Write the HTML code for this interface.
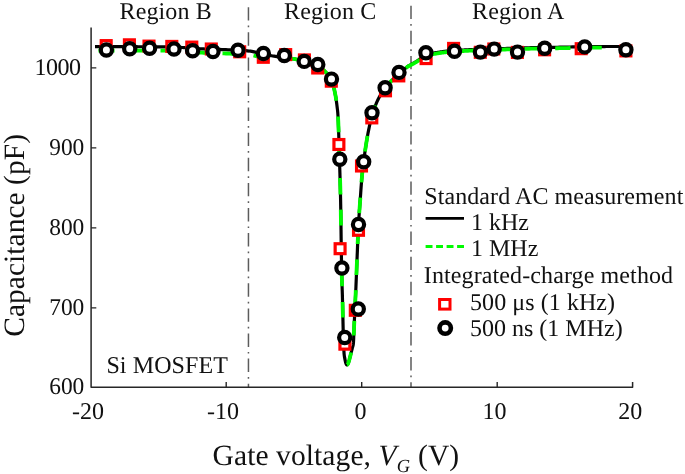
<!DOCTYPE html>
<html lang="en"><head><meta charset="utf-8"><title>C-V curve</title>
<style>html,body{margin:0;padding:0;background:#fff}svg{display:block}text{text-rendering:geometricPrecision}</style></head>
<body>
<svg width="685" height="474" viewBox="0 0 685 474">
<rect width="685" height="474" fill="#fff"/>
<g stroke="#5c5c5c" stroke-width="1.5" fill="none" stroke-dasharray="13.4 5 1.7 5">
<path d="M248.45,7.2 V387"/>
<path d="M411.0,5.7 V387"/>
</g>
<g stroke="#262626" stroke-width="1.5" fill="none">
<path d="M91.1,27.6 V387.2 H632.6 V382" stroke-linejoin="round"/>
<path d="M226.2,387.2 v-5.2 M361.7,387.2 v-5.2 M497.2,387.2 v-5.2 M91.1,67.85 h5.2 M91.1,147.85 h5.2 M91.1,227.85 h5.2 M91.1,307.85 h5.2 " stroke-width="1.4"/>
</g>
<path d="M95.00,46.70 L95.71,46.70 L96.57,46.70 L97.58,46.70 L98.70,46.70 L99.93,46.70 L101.25,46.70 L102.64,46.70 L104.07,46.70 L105.55,46.70 L107.04,46.70 L108.53,46.70 L110.00,46.70 L111.49,46.70 L113.04,46.70 L114.65,46.70 L116.30,46.70 L117.98,46.69 L119.69,46.69 L121.41,46.69 L123.15,46.69 L124.88,46.69 L126.61,46.69 L128.32,46.70 L130.00,46.70 L131.67,46.70 L133.33,46.71 L135.00,46.72 L136.67,46.72 L138.33,46.73 L140.00,46.74 L141.67,46.75 L143.33,46.76 L145.00,46.77 L146.67,46.78 L148.33,46.79 L150.00,46.80 L151.67,46.81 L153.33,46.82 L155.00,46.83 L156.67,46.83 L158.33,46.84 L160.00,46.85 L161.67,46.86 L163.33,46.88 L165.00,46.90 L166.67,46.92 L168.33,46.96 L170.00,47.00 L171.69,47.05 L173.43,47.11 L175.19,47.17 L176.96,47.24 L178.74,47.32 L180.50,47.40 L182.23,47.48 L183.93,47.57 L185.56,47.65 L187.13,47.74 L188.61,47.82 L190.00,47.90 L191.24,47.98 L192.32,48.06 L193.28,48.15 L194.15,48.23 L194.96,48.32 L195.75,48.41 L196.55,48.49 L197.41,48.58 L198.34,48.66 L199.40,48.74 L200.61,48.82 L202.00,48.90 L203.58,48.97 L205.32,49.04 L207.18,49.10 L209.15,49.16 L211.20,49.22 L213.31,49.28 L215.46,49.34 L217.63,49.40 L219.79,49.47 L221.92,49.54 L224.00,49.62 L226.00,49.70 L227.98,49.79 L230.01,49.87 L232.05,49.95 L234.11,50.04 L236.16,50.13 L238.19,50.23 L240.18,50.33 L242.11,50.44 L243.98,50.56 L245.76,50.69 L247.44,50.84 L249.00,51.00 L250.44,51.18 L251.76,51.38 L252.98,51.60 L254.11,51.84 L255.18,52.08 L256.19,52.33 L257.16,52.59 L258.11,52.84 L259.05,53.09 L260.01,53.34 L260.98,53.58 L262.00,53.80 L263.01,54.01 L263.97,54.22 L264.88,54.42 L265.78,54.62 L266.67,54.81 L267.56,55.01 L268.48,55.20 L269.44,55.39 L270.46,55.59 L271.55,55.79 L272.72,55.99 L274.00,56.20 L275.42,56.41 L276.99,56.63 L278.67,56.86 L280.44,57.08 L282.27,57.31 L284.12,57.54 L285.97,57.77 L287.78,58.00 L289.52,58.23 L291.15,58.45 L292.66,58.68 L294.00,58.90 L295.17,59.11 L296.20,59.31 L297.11,59.50 L297.93,59.69 L298.67,59.87 L299.38,60.06 L300.06,60.25 L300.74,60.46 L301.45,60.68 L302.22,60.93 L303.06,61.20 L304.00,61.50 L305.05,61.83 L306.18,62.19 L307.38,62.58 L308.63,62.99 L309.90,63.41 L311.19,63.85 L312.46,64.30 L313.70,64.74 L314.90,65.19 L316.03,65.64 L317.07,66.08 L318.00,66.50 L318.83,66.91 L319.58,67.29 L320.25,67.67 L320.87,68.04 L321.44,68.41 L321.97,68.78 L322.47,69.17 L322.96,69.57 L323.45,70.00 L323.94,70.46 L324.46,70.96 L325.00,71.50 L325.57,72.07 L326.15,72.66 L326.73,73.27 L327.31,73.91 L327.90,74.57 L328.47,75.25 L329.03,75.96 L329.57,76.70 L330.10,77.48 L330.60,78.28 L331.06,79.12 L331.50,80.00 L331.90,80.93 L332.27,81.91 L332.62,82.93 L332.94,84.00 L333.25,85.10 L333.53,86.22 L333.80,87.36 L334.06,88.50 L334.30,89.64 L334.54,90.78 L334.77,91.90 L335.00,93.00 L335.22,94.08 L335.43,95.16 L335.62,96.23 L335.81,97.30 L335.98,98.37 L336.14,99.44 L336.30,100.51 L336.45,101.59 L336.59,102.68 L336.73,103.78 L336.87,104.88 L337.00,106.00 L337.13,107.05 L337.25,107.97 L337.35,108.82 L337.46,109.63 L337.55,110.45 L337.64,111.31 L337.73,112.27 L337.82,113.37 L337.91,114.65 L338.00,116.15 L338.10,117.92 L338.20,120.00 L338.31,122.42 L338.41,125.16 L338.52,128.17 L338.63,131.41 L338.74,134.82 L338.86,138.38 L338.97,142.02 L339.08,145.70 L339.19,149.39 L339.29,153.03 L339.40,156.58 L339.50,160.00 L339.60,163.30 L339.70,166.55 L339.80,169.77 L339.90,172.96 L339.99,176.16 L340.09,179.38 L340.18,182.62 L340.27,185.93 L340.36,189.30 L340.44,192.75 L340.52,196.32 L340.60,200.00 L340.67,203.88 L340.74,207.99 L340.81,212.27 L340.87,216.67 L340.93,221.14 L340.98,225.62 L341.04,230.08 L341.09,234.44 L341.14,238.67 L341.19,242.71 L341.25,246.50 L341.30,250.00 L341.35,253.23 L341.41,256.27 L341.46,259.14 L341.51,261.85 L341.56,264.42 L341.61,266.88 L341.66,269.22 L341.70,271.48 L341.75,273.67 L341.80,275.81 L341.85,277.91 L341.90,280.00 L341.95,281.97 L342.00,283.74 L342.05,285.35 L342.09,286.85 L342.14,288.28 L342.19,289.69 L342.24,291.11 L342.29,292.59 L342.34,294.18 L342.39,295.91 L342.44,297.84 L342.50,300.00 L342.56,302.46 L342.63,305.22 L342.69,308.21 L342.76,311.37 L342.83,314.63 L342.91,317.94 L342.98,321.22 L343.05,324.41 L343.12,327.45 L343.18,330.27 L343.24,332.81 L343.30,335.00 L343.35,336.87 L343.40,338.51 L343.45,339.94 L343.49,341.19 L343.53,342.29 L343.57,343.26 L343.61,344.14 L343.65,344.94 L343.69,345.70 L343.73,346.45 L343.76,347.20 L343.80,348.00 L343.83,348.79 L343.87,349.50 L343.89,350.16 L343.92,350.76 L343.94,351.32 L343.97,351.85 L344.00,352.35 L344.03,352.84 L344.06,353.32 L344.10,353.80 L344.15,354.29 L344.20,354.80 L344.26,355.33 L344.33,355.86 L344.41,356.39 L344.50,356.91 L344.58,357.43 L344.67,357.94 L344.77,358.43 L344.86,358.91 L344.95,359.37 L345.04,359.81 L345.12,360.22 L345.20,360.60 L345.27,360.95 L345.34,361.28 L345.41,361.59 L345.47,361.87 L345.54,362.13 L345.60,362.38 L345.66,362.61 L345.73,362.83 L345.79,363.04 L345.86,363.23 L345.93,363.42 L346.00,363.60 L346.08,363.78 L346.15,363.95 L346.23,364.11 L346.31,364.27 L346.39,364.41 L346.48,364.54 L346.56,364.65 L346.64,364.74 L346.73,364.82 L346.82,364.87 L346.91,364.90 L347.00,364.90 L347.09,364.87 L347.19,364.82 L347.29,364.74 L347.39,364.64 L347.50,364.51 L347.60,364.38 L347.70,364.22 L347.81,364.05 L347.91,363.87 L348.01,363.69 L348.11,363.50 L348.20,363.30 L348.29,363.10 L348.37,362.90 L348.45,362.68 L348.53,362.46 L348.61,362.23 L348.69,361.99 L348.77,361.73 L348.84,361.46 L348.93,361.17 L349.01,360.87 L349.10,360.54 L349.20,360.20 L349.30,359.83 L349.41,359.44 L349.52,359.03 L349.63,358.60 L349.74,358.16 L349.86,357.70 L349.98,357.23 L350.10,356.75 L350.23,356.27 L350.35,355.78 L350.48,355.29 L350.60,354.80 L350.73,354.30 L350.86,353.79 L351.00,353.26 L351.13,352.73 L351.27,352.19 L351.41,351.64 L351.55,351.10 L351.69,350.56 L351.82,350.03 L351.95,349.50 L352.08,348.99 L352.20,348.50 L352.32,348.04 L352.43,347.63 L352.54,347.25 L352.66,346.89 L352.76,346.54 L352.87,346.18 L352.97,345.80 L353.07,345.40 L353.16,344.94 L353.25,344.44 L353.33,343.86 L353.40,343.20 L353.47,342.45 L353.52,341.63 L353.57,340.74 L353.62,339.80 L353.66,338.81 L353.69,337.79 L353.73,336.75 L353.76,335.70 L353.79,334.65 L353.82,333.61 L353.86,332.59 L353.90,331.60 L353.94,330.69 L353.97,329.88 L354.00,329.13 L354.03,328.41 L354.06,327.70 L354.09,326.95 L354.13,326.14 L354.17,325.23 L354.21,324.19 L354.26,323.00 L354.33,321.61 L354.40,320.00 L354.49,318.16 L354.58,316.12 L354.69,313.91 L354.80,311.55 L354.92,309.06 L355.04,306.46 L355.17,303.79 L355.30,301.05 L355.43,298.28 L355.56,295.50 L355.68,292.73 L355.80,290.00 L355.92,287.24 L356.03,284.40 L356.15,281.48 L356.27,278.52 L356.39,275.52 L356.51,272.50 L356.62,269.48 L356.74,266.48 L356.86,263.52 L356.97,260.60 L357.09,257.76 L357.20,255.00 L357.31,252.31 L357.42,249.65 L357.52,247.03 L357.63,244.44 L357.73,241.89 L357.83,239.38 L357.94,236.89 L358.04,234.44 L358.15,232.03 L358.26,229.65 L358.38,227.31 L358.50,225.00 L358.63,222.76 L358.75,220.60 L358.88,218.52 L359.01,216.48 L359.14,214.48 L359.28,212.50 L359.42,210.52 L359.57,208.52 L359.72,206.48 L359.87,204.40 L360.03,202.24 L360.20,200.00 L360.37,197.68 L360.54,195.29 L360.71,192.85 L360.88,190.37 L361.06,187.85 L361.24,185.31 L361.44,182.75 L361.64,180.19 L361.86,177.62 L362.09,175.06 L362.33,172.52 L362.60,170.00 L362.89,167.47 L363.20,164.88 L363.53,162.27 L363.87,159.63 L364.23,156.99 L364.60,154.38 L364.97,151.79 L365.35,149.26 L365.72,146.80 L366.09,144.42 L366.45,142.15 L366.80,140.00 L367.15,137.95 L367.50,135.95 L367.86,134.02 L368.21,132.15 L368.57,130.35 L368.93,128.62 L369.27,126.98 L369.61,125.41 L369.93,123.92 L370.24,122.52 L370.53,121.21 L370.80,120.00 L371.04,118.93 L371.23,118.03 L371.40,117.27 L371.55,116.63 L371.69,116.07 L371.82,115.56 L371.95,115.08 L372.10,114.59 L372.27,114.07 L372.47,113.48 L372.71,112.80 L373.00,112.00 L373.33,111.08 L373.69,110.10 L374.07,109.05 L374.49,107.95 L374.92,106.82 L375.37,105.67 L375.84,104.51 L376.31,103.35 L376.80,102.21 L377.30,101.09 L377.80,100.02 L378.30,99.00 L378.81,98.02 L379.33,97.05 L379.87,96.10 L380.42,95.16 L380.98,94.24 L381.54,93.34 L382.12,92.45 L382.69,91.58 L383.27,90.73 L383.85,89.90 L384.43,89.09 L385.00,88.30 L385.57,87.53 L386.15,86.80 L386.73,86.08 L387.31,85.39 L387.90,84.71 L388.48,84.05 L389.07,83.40 L389.66,82.77 L390.24,82.15 L390.83,81.53 L391.42,80.91 L392.00,80.30 L392.58,79.70 L393.15,79.11 L393.72,78.54 L394.29,77.98 L394.85,77.42 L395.42,76.88 L395.99,76.34 L396.57,75.80 L397.16,75.26 L397.76,74.71 L398.37,74.16 L399.00,73.60 L399.66,73.02 L400.36,72.41 L401.09,71.79 L401.84,71.15 L402.60,70.52 L403.36,69.89 L404.10,69.28 L404.83,68.69 L405.52,68.14 L406.17,67.62 L406.77,67.16 L407.30,66.75 L407.77,66.41 L408.18,66.12 L408.55,65.88 L408.88,65.68 L409.17,65.52 L409.44,65.38 L409.70,65.25 L409.94,65.14 L410.19,65.02 L410.44,64.90 L410.71,64.76 L411.00,64.60 L411.30,64.42 L411.61,64.25 L411.91,64.08 L412.21,63.90 L412.51,63.73 L412.81,63.56 L413.11,63.39 L413.40,63.21 L413.70,63.04 L414.00,62.86 L414.30,62.68 L414.60,62.50 L414.90,62.32 L415.20,62.13 L415.50,61.95 L415.79,61.76 L416.09,61.58 L416.39,61.39 L416.69,61.20 L416.99,61.00 L417.29,60.81 L417.59,60.61 L417.89,60.41 L418.20,60.20 L418.51,59.99 L418.82,59.77 L419.13,59.55 L419.44,59.32 L419.76,59.09 L420.07,58.86 L420.39,58.63 L420.71,58.40 L421.03,58.17 L421.35,57.94 L421.68,57.72 L422.00,57.50 L422.33,57.28 L422.66,57.06 L422.99,56.84 L423.32,56.61 L423.65,56.39 L423.99,56.17 L424.32,55.95 L424.66,55.74 L425.00,55.54 L425.33,55.35 L425.67,55.17 L426.00,55.00 L426.33,54.84 L426.66,54.69 L426.99,54.56 L427.32,54.43 L427.65,54.30 L427.98,54.19 L428.31,54.08 L428.64,53.97 L428.98,53.88 L429.32,53.78 L429.66,53.69 L430.00,53.60 L430.34,53.52 L430.68,53.45 L431.02,53.38 L431.36,53.32 L431.69,53.27 L432.04,53.22 L432.39,53.17 L432.74,53.12 L433.11,53.07 L433.49,53.02 L433.89,52.96 L434.30,52.90 L434.73,52.83 L435.18,52.76 L435.64,52.69 L436.12,52.61 L436.61,52.53 L437.10,52.46 L437.60,52.38 L438.10,52.30 L438.61,52.22 L439.11,52.15 L439.61,52.07 L440.10,52.00 L440.58,51.93 L441.05,51.86 L441.52,51.79 L441.98,51.72 L442.44,51.65 L442.91,51.58 L443.39,51.51 L443.87,51.45 L444.38,51.38 L444.89,51.32 L445.43,51.26 L446.00,51.20 L446.58,51.14 L447.15,51.09 L447.74,51.04 L448.33,50.99 L448.93,50.95 L449.56,50.90 L450.21,50.85 L450.89,50.81 L451.60,50.76 L452.35,50.71 L453.15,50.66 L454.00,50.60 L454.91,50.54 L455.88,50.48 L456.90,50.41 L457.96,50.34 L459.06,50.27 L460.19,50.20 L461.33,50.13 L462.48,50.06 L463.63,49.99 L464.78,49.92 L465.90,49.86 L467.00,49.80 L468.05,49.74 L469.03,49.69 L469.97,49.64 L470.89,49.59 L471.81,49.54 L472.75,49.49 L473.73,49.45 L474.78,49.40 L475.91,49.35 L477.14,49.30 L478.50,49.25 L480.00,49.20 L481.66,49.15 L483.46,49.09 L485.38,49.03 L487.41,48.98 L489.52,48.92 L491.69,48.86 L493.90,48.80 L496.15,48.74 L498.40,48.68 L500.64,48.62 L502.84,48.56 L505.00,48.50 L507.14,48.44 L509.30,48.37 L511.48,48.30 L513.67,48.23 L515.86,48.15 L518.06,48.08 L520.26,48.01 L522.44,47.94 L524.62,47.87 L526.77,47.81 L528.90,47.75 L531.00,47.70 L533.05,47.65 L535.05,47.61 L537.00,47.58 L538.93,47.54 L540.84,47.52 L542.75,47.49 L544.68,47.46 L546.63,47.43 L548.62,47.40 L550.68,47.37 L552.80,47.34 L555.00,47.30 L557.31,47.26 L559.71,47.21 L562.20,47.15 L564.74,47.10 L567.33,47.04 L569.94,46.99 L572.55,46.93 L575.15,46.88 L577.71,46.83 L580.22,46.78 L582.66,46.74 L585.00,46.70 L587.29,46.67 L589.56,46.64 L591.81,46.62 L594.04,46.60 L596.23,46.58 L598.38,46.56 L600.47,46.55 L602.52,46.54 L604.50,46.53 L606.41,46.52 L608.25,46.51 L610.00,46.50 L611.70,46.49 L613.37,46.49 L615.01,46.49 L616.59,46.49 L618.11,46.49 L619.56,46.49 L620.92,46.49 L622.19,46.49 L623.34,46.50 L624.36,46.50 L625.26,46.50 L626.00,46.50" fill="none" stroke="#000" stroke-width="3.2" stroke-linejoin="round"/>
<path d="M98.50,50.50 L98.70,50.50 L99.93,50.50 L101.25,50.50 L102.64,50.50 L104.07,50.50 L105.55,50.50 L107.04,50.50 L108.53,50.50 L110.00,50.50 L111.49,50.50 L113.04,50.50 L114.65,50.50 L116.30,50.50 L117.98,50.49 L119.69,50.49 L121.41,50.49 L123.15,50.49 L124.88,50.49 L126.61,50.49 L128.32,50.50 L130.00,50.50 L131.67,50.50 L133.33,50.51 L135.00,50.52 L136.67,50.52 L138.33,50.53 L140.00,50.54 L141.67,50.55 L143.33,50.56 L145.00,50.57 L146.67,50.58 L148.33,50.59 L150.00,50.60 L151.67,50.61 L153.33,50.62 L155.00,50.63 L156.67,50.63 L158.33,50.64 L160.00,50.65 L161.67,50.66 L163.33,50.68 L165.00,50.70 L166.67,50.72 L168.33,50.76 L170.00,50.80 L171.69,50.85 L173.43,50.91 L175.19,50.97 L176.96,51.04 L178.74,51.12 L180.50,51.20 L182.23,51.28 L183.93,51.37 L185.56,51.45 L187.13,51.54 L188.61,51.62 L190.00,51.70 L191.24,51.78 L192.32,51.86 L193.28,51.95 L194.15,52.03 L194.96,52.12 L195.75,52.21 L196.55,52.29 L197.41,52.38 L198.34,52.46 L199.40,52.54 L200.61,52.62 L202.00,52.70 L203.58,52.77 L205.32,52.84 L207.18,52.90 L209.15,52.96 L211.20,53.02 L213.31,53.08 L215.46,53.14 L217.63,53.20 L219.79,53.27 L221.92,53.34 L224.00,53.42 L226.00,53.50 L227.98,53.59 L230.01,53.67 L232.05,53.75 L234.11,53.84 L236.16,53.93 L238.19,54.02 L240.18,54.13 L242.11,54.24 L243.98,54.36 L245.76,54.49 L247.44,54.64 L249.00,54.80 L250.44,54.98 L251.76,55.18 L252.98,55.40 L254.11,55.64 L255.18,55.88 L256.19,56.13 L257.16,56.39 L258.11,56.63 L259.05,56.78 L260.01,56.93 L260.98,57.06 L262.00,57.18 L263.01,57.28 L263.97,57.39 L264.88,57.49 L265.78,57.60 L266.67,57.70 L267.56,57.80 L268.48,57.89 L269.44,57.98 L270.46,58.07 L271.55,58.16 L272.72,58.24 L274.00,58.31 L275.42,58.38 L276.99,58.43 L278.67,58.47 L280.44,58.51 L282.27,58.55 L284.12,58.58 L285.97,58.61 L287.78,58.65 L289.52,58.70 L291.15,58.75 L292.66,58.82 L294.00,58.90 L295.17,59.11 L296.20,59.31 L297.11,59.50 L297.93,59.69 L298.67,59.87 L299.38,60.06 L300.06,60.25 L300.74,60.46 L301.45,60.68 L302.22,60.93 L303.06,61.20 L304.00,61.50 L305.05,61.83 L306.18,62.19 L307.38,62.58 L308.63,62.99 L309.90,63.41 L311.19,63.85 L312.46,64.30 L313.70,64.74 L314.90,65.19 L316.03,65.64 L317.07,66.08 L318.00,66.50 L318.83,66.91 L319.58,67.29 L320.25,67.67 L320.87,68.04 L321.44,68.41 L321.97,68.78 L322.47,69.17 L322.96,69.57 L323.45,70.00 L323.94,70.46 L324.46,70.96 L325.00,71.50 L325.57,72.07 L326.15,72.66 L326.73,73.27 L327.31,73.91 L327.90,74.57 L328.47,75.25 L329.03,75.96 L329.57,76.70 L330.10,77.48 L330.60,78.28 L331.06,79.12 L331.50,80.00 L331.90,80.93 L332.27,81.91 L332.62,82.93 L332.94,84.00 L333.25,85.10 L333.53,86.22 L333.80,87.36 L334.06,88.50 L334.30,89.64 L334.54,90.78 L334.77,91.90 L335.00,93.00 L335.22,94.08 L335.43,95.16 L335.62,96.23 L335.81,97.30 L335.98,98.37 L336.14,99.44 L336.30,100.51 L336.45,101.59 L336.59,102.68 L336.73,103.78 L336.87,104.88 L337.00,106.00 L337.13,107.05 L337.25,107.97 L337.35,108.82 L337.46,109.63 L337.55,110.45 L337.64,111.31 L337.73,112.27 L337.82,113.37 L337.91,114.65 L338.00,116.15 L338.10,117.92 L338.20,120.00 L338.31,122.42 L338.41,125.16 L338.52,128.17 L338.63,131.41 L338.74,134.82 L338.86,138.38 L338.97,142.02 L339.08,145.70 L339.19,149.39 L339.29,153.03 L339.40,156.58 L339.50,160.00 L339.60,163.30 L339.70,166.55 L339.80,169.77 L339.90,172.96 L339.99,176.16 L340.09,179.38 L340.18,182.62 L340.27,185.93 L340.36,189.30 L340.44,192.75 L340.52,196.32 L340.60,200.00 L340.67,203.88 L340.74,207.99 L340.81,212.27 L340.87,216.67 L340.93,221.14 L340.98,225.62 L341.04,230.08 L341.09,234.44 L341.14,238.67 L341.19,242.71 L341.25,246.50 L341.30,250.00 L341.35,253.23 L341.41,256.27 L341.46,259.14 L341.51,261.85 L341.56,264.42 L341.61,266.88 L341.66,269.22 L341.70,271.48 L341.75,273.67 L341.80,275.81 L341.85,277.91 L341.90,280.00 L341.95,281.97 L342.00,283.74 L342.05,285.35 L342.09,286.85 L342.14,288.28 L342.19,289.69 L342.24,291.11 L342.29,292.59 L342.34,294.18 L342.39,295.91 L342.44,297.84 L342.50,300.00 L342.56,302.46 L342.63,305.22 L342.69,308.21 L342.76,311.37 L342.83,314.63 L342.91,317.94 L342.98,321.22 L343.05,324.41 L343.12,327.45 L343.18,330.27 L343.24,332.81 L343.30,335.00 L343.35,336.87 L343.40,338.51 L343.45,339.94 L343.49,341.19 L343.53,342.29 L343.57,343.26 L343.61,344.14 L343.65,344.94 L343.69,345.70 L343.73,346.45 L343.76,347.20 L343.80,348.00 L343.83,348.79 L343.87,349.50 L343.89,350.16 L343.92,350.76 L343.94,351.32 L343.97,351.85 L344.00,352.35 L344.03,352.84 L344.06,353.32 L344.10,353.80 L344.15,354.29 L344.20,354.80 L344.26,355.33 L344.33,355.86 L344.41,356.39 L344.50,356.91 L344.58,357.43 L344.67,357.94 L344.77,358.43 L344.86,358.91 L344.95,359.37 L345.04,359.81 L345.12,360.22 L345.20,360.60 L345.27,360.95 L345.34,361.28 L345.41,361.59 L345.47,361.87 L345.54,362.13 L345.60,362.38 L345.66,362.61 L345.73,362.83 L345.79,363.04 L345.86,363.23 L345.93,363.42 L346.00,363.60 L346.08,363.78 L346.15,363.95 L346.23,364.11 L346.31,364.27 L346.39,364.41 L346.48,364.54 L346.56,364.65 L346.64,364.74 L346.73,364.82 L346.82,364.87 L346.91,364.90 L347.00,364.90" fill="none" stroke="#00fa00" stroke-width="3.8" stroke-dasharray="0 0.00 16.00 15.00 16.00 15.00 16.01 15.02 16.04 15.01 16.01 15.09 16.22 15.02 15.14 15.76 16.00 12.54 16.11 15.80 15.81 15.21 15.81 14.71 16.41 15.20 15.80 17.10 12.30 16.70 14.80 15.71 15.50 15.50 15.01 67.53" stroke-linejoin="round"/>
<path d="M347.00,364.90 L347.09,364.87 L347.19,364.82 L347.29,364.74 L347.39,364.64 L347.50,364.51 L347.60,364.38 L347.70,364.22 L347.81,364.05 L347.91,363.87 L348.01,363.69 L348.11,363.50 L348.20,363.30 L348.29,363.10 L348.37,362.90 L348.45,362.68 L348.53,362.46 L348.61,362.23 L348.69,361.99 L348.77,361.73 L348.84,361.46 L348.93,361.17 L349.01,360.87 L349.10,360.54 L349.20,360.20 L349.30,359.83 L349.41,359.44 L349.52,359.03 L349.63,358.60 L349.74,358.16 L349.86,357.70 L349.98,357.23 L350.10,356.75 L350.23,356.27 L350.35,355.78 L350.48,355.29 L350.60,354.80 L350.73,354.30 L350.86,353.79 L351.00,353.26 L351.13,352.73 L351.27,352.19 L351.41,351.64 L351.55,351.10 L351.69,350.56 L351.82,350.03 L351.95,349.50 L352.08,348.99 L352.20,348.50 L352.32,348.04 L352.43,347.63 L352.54,347.25 L352.66,346.89 L352.76,346.54 L352.87,346.18 L352.97,345.80 L353.07,345.40 L353.16,344.94 L353.25,344.44 L353.33,343.86 L353.40,343.20 L353.47,342.45 L353.52,341.63 L353.57,340.74 L353.62,339.80 L353.66,338.81 L353.69,337.79 L353.73,336.75 L353.76,335.70 L353.79,334.65 L353.82,333.61 L353.86,332.59 L353.90,331.60 L353.94,330.69 L353.97,329.88 L354.00,329.13 L354.03,328.41 L354.06,327.70 L354.09,326.95 L354.13,326.14 L354.17,325.23 L354.21,324.19 L354.26,323.00 L354.33,321.61 L354.40,320.00 L354.49,318.16 L354.58,316.12 L354.69,313.91 L354.80,311.55 L354.92,309.06 L355.04,306.46 L355.17,303.79 L355.30,301.05 L355.43,298.28 L355.56,295.50 L355.68,292.73 L355.80,290.00 L355.92,287.24 L356.03,284.40 L356.15,281.48 L356.27,278.52 L356.39,275.52 L356.51,272.50 L356.62,269.48 L356.74,266.48 L356.86,263.52 L356.97,260.60 L357.09,257.76 L357.20,255.00 L357.31,252.31 L357.42,249.65 L357.52,247.03 L357.63,244.44 L357.73,241.89 L357.83,239.38 L357.94,236.89 L358.04,234.44 L358.15,232.03 L358.26,229.65 L358.38,227.31 L358.50,225.00 L358.63,222.76 L358.75,220.60 L358.88,218.52 L359.01,216.48 L359.14,214.48 L359.28,212.50 L359.42,210.52 L359.57,208.52 L359.72,206.48 L359.87,204.40 L360.03,202.24 L360.20,200.00 L360.37,197.68 L360.54,195.29 L360.71,192.85 L360.88,190.37 L361.06,187.85 L361.24,185.31 L361.44,182.75 L361.64,180.19 L361.86,177.62 L362.09,175.06 L362.33,172.52 L362.60,170.00 L362.89,167.47 L363.20,164.88 L363.53,162.27 L363.87,159.63 L364.23,156.99 L364.60,154.38 L364.97,151.79 L365.35,149.26 L365.72,146.80 L366.09,144.42 L366.45,142.15 L366.80,140.00 L367.15,137.95 L367.50,135.95 L367.86,134.02 L368.21,132.15 L368.57,130.35 L368.93,128.62 L369.27,126.98 L369.61,125.41 L369.93,123.92 L370.24,122.52 L370.53,121.21 L370.80,120.00 L371.04,118.93 L371.23,118.03 L371.40,117.27 L371.55,116.63 L371.69,116.07 L371.82,115.56 L371.95,115.08 L372.10,114.59 L372.27,114.07 L372.47,113.48 L372.71,112.80 L373.00,112.00 L373.33,111.08 L373.69,110.10 L374.07,109.05 L374.49,107.95 L374.92,106.82 L375.37,105.67 L375.84,104.51 L376.31,103.35 L376.80,102.21 L377.30,101.09 L377.80,100.02 L378.30,99.00 L378.81,98.02 L379.33,97.05 L379.87,96.10 L380.42,95.16 L380.98,94.24 L381.54,93.34 L382.12,92.45 L382.69,91.58 L383.27,90.73 L383.85,89.90 L384.43,89.09 L385.00,88.30 L385.57,87.53 L386.15,86.80 L386.73,86.08 L387.31,85.39 L387.90,84.71 L388.48,84.05 L389.07,83.40 L389.66,82.77 L390.24,82.15 L390.83,81.53 L391.42,80.91 L392.00,80.30 L392.58,79.70 L393.15,79.11 L393.72,78.54 L394.29,77.98 L394.85,77.42 L395.42,76.88 L395.99,76.34 L396.57,75.80 L397.16,75.26 L397.76,74.71 L398.37,74.16 L399.00,73.60 L399.66,73.02 L400.36,72.42 L401.09,71.82 L401.84,71.22 L402.60,70.61 L403.36,70.00 L404.10,69.42 L404.83,68.85 L405.52,68.32 L406.17,67.83 L406.77,67.38 L407.30,66.99 L407.77,66.67 L408.18,66.39 L408.55,66.17 L408.88,65.98 L409.17,65.82 L409.44,65.69 L409.70,65.58 L409.94,65.47 L410.19,65.36 L410.44,65.25 L410.71,65.12 L411.00,64.97 L411.30,64.80 L411.61,64.64 L411.91,64.47 L412.21,64.31 L412.51,64.15 L412.81,63.99 L413.11,63.82 L413.40,63.66 L413.70,63.49 L414.00,63.33 L414.30,63.16 L414.60,62.99 L414.90,62.81 L415.20,62.64 L415.50,62.46 L415.79,62.29 L416.09,62.11 L416.39,61.93 L416.69,61.75 L416.99,61.57 L417.29,61.38 L417.59,61.20 L417.89,61.00 L418.20,60.81 L418.51,60.61 L418.82,60.40 L419.13,60.19 L419.44,59.97 L419.76,59.75 L420.07,59.53 L420.39,59.31 L420.71,59.09 L421.03,58.87 L421.35,58.65 L421.68,58.44 L422.00,58.23 L422.33,58.03 L422.66,57.81 L422.99,57.60 L423.32,57.39 L423.65,57.18 L423.99,56.97 L424.32,56.76 L424.66,56.57 L425.00,56.38 L425.33,56.20 L425.67,56.02 L426.00,55.87 L426.33,55.72 L426.66,55.58 L426.99,55.46 L427.32,55.34 L427.65,55.22 L427.98,55.12 L428.31,55.02 L428.64,54.93 L428.98,54.84 L429.32,54.76 L429.66,54.68 L430.00,54.60 L430.34,54.52 L430.68,54.45 L431.02,54.38 L431.36,54.32 L431.69,54.27 L432.04,54.22 L432.39,54.17 L432.74,54.12 L433.11,54.07 L433.49,54.02 L433.89,53.96 L434.30,53.90 L434.73,53.83 L435.18,53.76 L435.64,53.69 L436.12,53.61 L436.61,53.53 L437.10,53.46 L437.60,53.38 L438.10,53.30 L438.61,53.22 L439.11,53.15 L439.61,53.07 L440.10,53.00 L440.58,52.93 L441.05,52.86 L441.52,52.79 L441.98,52.72 L442.44,52.65 L442.91,52.58 L443.39,52.51 L443.87,52.45 L444.38,52.38 L444.89,52.32 L445.43,52.26 L446.00,52.20 L446.58,52.14 L447.15,52.09 L447.74,52.04 L448.33,51.99 L448.93,51.95 L449.56,51.90 L450.21,51.85 L450.89,51.81 L451.60,51.76 L452.35,51.71 L453.15,51.66 L454.00,51.60 L454.91,51.54 L455.88,51.48 L456.90,51.41 L457.96,51.34 L459.06,51.27 L460.19,51.20 L461.33,51.13 L462.48,51.06 L463.63,50.99 L464.78,50.92 L465.90,50.86 L467.00,50.80 L468.05,50.74 L469.03,50.69 L469.97,50.64 L470.89,50.59 L471.81,50.54 L472.75,50.49 L473.73,50.45 L474.78,50.40 L475.91,50.35 L477.14,50.30 L478.50,50.25 L480.00,50.20 L481.66,50.15 L483.46,50.09 L485.38,50.03 L487.41,49.98 L489.52,49.92 L491.69,49.86 L493.90,49.80 L496.15,49.74 L498.40,49.68 L500.64,49.62 L502.84,49.56 L505.00,49.50 L507.14,49.44 L509.30,49.37 L511.48,49.30 L513.67,49.23 L515.86,49.15 L518.06,49.08 L520.26,49.01 L522.44,48.94 L524.62,48.87 L526.77,48.81 L528.90,48.75 L531.00,48.70 L533.05,48.65 L535.05,48.61 L537.00,48.58 L538.93,48.54 L540.84,48.52 L542.75,48.49 L544.68,48.46 L546.63,48.43 L548.62,48.40 L550.68,48.37 L552.80,48.34 L555.00,48.30 L557.31,48.26 L559.71,48.21 L562.20,48.15 L564.74,48.10 L567.33,48.04 L569.94,47.99 L572.55,47.93 L575.15,47.88 L577.71,47.83 L580.22,47.78 L582.66,47.74 L585.00,47.70 L587.29,47.67 L589.56,47.64 L591.81,47.62 L594.04,47.60 L596.23,47.58 L598.38,47.56 L600.47,47.55 L602.52,47.54 L604.50,47.53 L606.41,47.52 L608.25,47.51 L610.00,47.50 L611.70,47.49 L613.37,47.49 L615.01,47.49 L616.59,47.49 L618.11,47.49 L619.56,47.49 L620.92,47.49 L622.19,47.49 L623.34,47.50 L624.36,47.50 L625.26,47.50 L626.00,47.50" fill="none" stroke="#00fa00" stroke-width="3.8" stroke-dasharray="0 0.00 13.16 17.38 14.61 15.52 15.22 15.21 15.71 15.31 15.51 15.43 15.44 15.44 15.47 15.54 15.90 15.42 16.18 15.50 15.30 18.05 16.34 13.31 15.65 13.53 15.02 18.01 16.51 14.01 15.00 15.70 15.30 16.00 15.30 74.20" stroke-linejoin="round"/>
<g fill="#fff" stroke="#ff0000" stroke-width="3.2"><rect x="101.25" y="40.65" width="9.9" height="9.9"/><rect x="124.45" y="39.85" width="9.9" height="9.9"/><rect x="144.05" y="41.15" width="9.9" height="9.9"/><rect x="166.85" y="41.45" width="9.9" height="9.9"/><rect x="186.85" y="42.15" width="9.9" height="9.9"/><rect x="206.35" y="44.05" width="9.9" height="9.9"/><rect x="234.75" y="46.85" width="9.9" height="9.9"/><rect x="258.35" y="52.35" width="9.9" height="9.9"/><rect x="280.75" y="49.65" width="9.9" height="9.9"/><rect x="299.45" y="54.95" width="9.9" height="9.9"/><rect x="312.75" y="63.05" width="9.9" height="9.9"/><rect x="326.35" y="76.25" width="9.9" height="9.9"/><rect x="333.95" y="139.55" width="9.9" height="9.9"/><rect x="335.15" y="243.75" width="9.9" height="9.9"/><rect x="339.95" y="339.25" width="9.9" height="9.9"/><rect x="350.35" y="305.35" width="9.9" height="9.9"/><rect x="353.55" y="225.35" width="9.9" height="9.9"/><rect x="356.55" y="161.05" width="9.9" height="9.9"/><rect x="366.85" y="112.95" width="9.9" height="9.9"/><rect x="380.55" y="85.85" width="9.9" height="9.9"/><rect x="393.85" y="70.95" width="9.9" height="9.9"/><rect x="421.15" y="53.65" width="9.9" height="9.9"/><rect x="448.65" y="43.45" width="9.9" height="9.9"/><rect x="475.35" y="47.35" width="9.9" height="9.9"/><rect x="488.85" y="44.05" width="9.9" height="9.9"/><rect x="512.45" y="47.45" width="9.9" height="9.9"/><rect x="539.65" y="44.85" width="9.9" height="9.9"/><rect x="576.25" y="43.75" width="9.9" height="9.9"/><rect x="620.95" y="45.95" width="9.9" height="9.9"/></g>
<g fill="#fff" stroke="#000" stroke-width="4.2"><circle cx="106.4" cy="50.0" r="5.6"/><circle cx="129.7" cy="48.8" r="5.6"/><circle cx="149.6" cy="48.2" r="5.6"/><circle cx="174.0" cy="49.0" r="5.6"/><circle cx="192.6" cy="50.7" r="5.6"/><circle cx="213.0" cy="51.5" r="5.6"/><circle cx="238.0" cy="50.3" r="5.6"/><circle cx="263.4" cy="53.5" r="5.6"/><circle cx="284.3" cy="55.5" r="5.6"/><circle cx="304.2" cy="61.4" r="5.6"/><circle cx="317.8" cy="64.5" r="5.6"/><circle cx="331.5" cy="79.1" r="5.6"/><circle cx="339.8" cy="159.2" r="5.6"/><circle cx="341.9" cy="268.0" r="5.6"/><circle cx="344.7" cy="337.5" r="5.6"/><circle cx="358.3" cy="309.0" r="5.6"/><circle cx="358.5" cy="224.5" r="5.6"/><circle cx="363.7" cy="161.7" r="5.6"/><circle cx="372.0" cy="112.7" r="5.6"/><circle cx="385.1" cy="87.8" r="5.6"/><circle cx="399.0" cy="72.4" r="5.6"/><circle cx="425.9" cy="52.7" r="5.6"/><circle cx="454.5" cy="51.2" r="5.6"/><circle cx="480.4" cy="52.1" r="5.6"/><circle cx="494.2" cy="49.1" r="5.6"/><circle cx="517.5" cy="52.1" r="5.6"/><circle cx="544.7" cy="48.2" r="5.6"/><circle cx="584.7" cy="46.9" r="5.6"/><circle cx="625.9" cy="49.7" r="5.6"/></g>
<path d="M425.6,218.3 H464" stroke="#000" stroke-width="2.7"/>
<path d="M425.6,246.5 H464" stroke="#00fa00" stroke-width="2.8" stroke-dasharray="6.9 3.6"/>
<rect x="439.60" y="299.50" width="10.4" height="9.6" fill="none" stroke="#ff0000" stroke-width="3"/>
<circle cx="445.2" cy="328.1" r="5.7" fill="#fff" stroke="#000" stroke-width="4.6"/>
<g font-family="'Liberation Serif', 'Times New Roman', serif" fill="#111" font-size="24">
<text x="119.5" y="18.7" text-anchor="start" style="letter-spacing:0.125px" >Region B</text>
<text x="284.0" y="18.7" text-anchor="start" style="letter-spacing:0.125px" >Region C</text>
<text x="472.0" y="18.7" text-anchor="start" style="letter-spacing:0.125px" >Region A</text>
<text x="106.4" y="372.6" text-anchor="start" style="letter-spacing:0.1px" >Si MOSFET</text>
<text x="34.4" y="75.1" text-anchor="start" textLength="46.7" lengthAdjust="spacing">1000</text>
<text x="49.2" y="154.9" text-anchor="start" textLength="35.07" lengthAdjust="spacingAndGlyphs">900</text>
<text x="49.2" y="234.7" text-anchor="start" textLength="35.07" lengthAdjust="spacingAndGlyphs">800</text>
<text x="49.2" y="314.5" text-anchor="start" textLength="35.07" lengthAdjust="spacingAndGlyphs">700</text>
<text x="49.2" y="394.3" text-anchor="start" textLength="35.07" lengthAdjust="spacingAndGlyphs">600</text>
<text x="88" y="419.3" text-anchor="middle" >-20</text>
<text x="223" y="419.3" text-anchor="middle" >-10</text>
<text x="360.6" y="419.3" text-anchor="middle" >0</text>
<text x="494.6" y="419.3" text-anchor="middle" >10</text>
<text x="630.2" y="419.3" text-anchor="middle" >20</text>
<text x="424.3" y="203.7" text-anchor="start" style="letter-spacing:0.08px" >Standard AC measurement</text>
<text x="471.0" y="229.6" text-anchor="start" >1 kHz</text>
<text x="471.0" y="255.7" text-anchor="start" >1 MHz</text>
<text x="423.8" y="282.7" text-anchor="start" style="letter-spacing:0.11px" >Integrated-charge method</text>
<text x="470.0" y="310.1" text-anchor="start" style="letter-spacing:0.07px" >500 μs (1 kHz)</text>
<text x="470.0" y="336.2" text-anchor="start" >500 ns (1 MHz)</text>
</g>
<g font-family="'Liberation Serif', 'Times New Roman', serif" fill="#111" font-size="29.5">
<text transform="translate(24.3,336.8) rotate(-90)" style="letter-spacing:0.03px">Capacitance (pF)</text>
<text x="212.6" y="464.9" style="letter-spacing:0.09px">Gate voltage, <tspan font-style="italic">V</tspan><tspan font-style="italic" font-size="18.5" dy="7.1">G</tspan><tspan dy="-7.1" dx="0.5"> (V)</tspan></text>
</g>
</svg>
</body></html>
